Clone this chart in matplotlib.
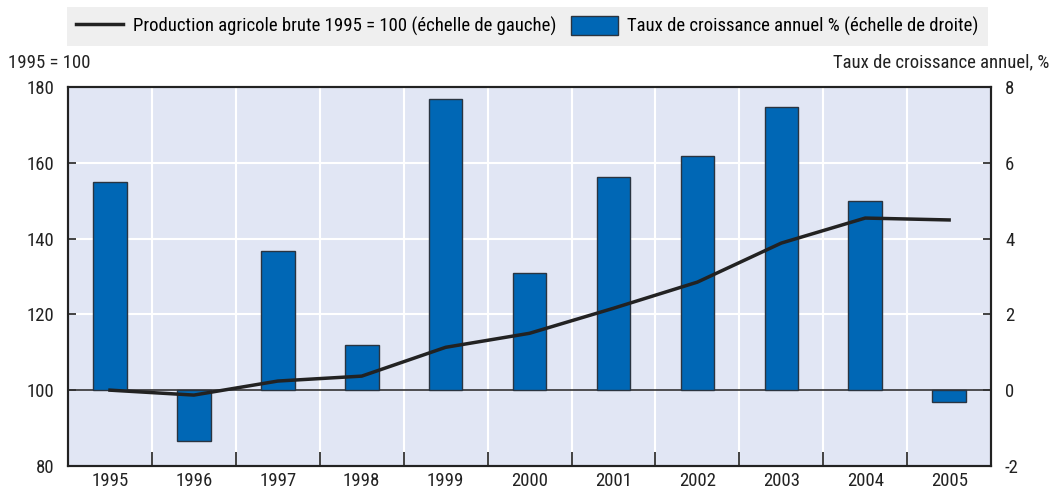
import numpy as np
import matplotlib
matplotlib.use('Agg')
import matplotlib.pyplot as plt
from matplotlib.ticker import FixedLocator

plt.rcParams['font.family'] = ['Roboto Condensed', 'Liberation Sans', 'DejaVu Sans']
plt.rcParams['axes.unicode_minus'] = False

#  data
years = ['1995', '1996', '1997', '1998', '1999', '2000', '2001', '2002', '2003', '2004', '2005']
production = [100, 98.7, 102.4, 103.7, 111.3, 115.0, 121.6, 128.5, 138.8, 145.4, 144.9]
growth = [5.5, -1.35, 3.67, 1.19, 7.68, 3.09, 5.62, 6.17, 7.47, 4.99, -0.32]

line_label = 'Production agricole brute 1995 = 100 (échelle de gauche)'
bar_label = 'Taux de croissance annuel % (échelle de droite)'

bg = '#e1e6f4'
blue = '#0067b5'
dark = '#222222'
fs = 13.5

fig = plt.figure(figsize=(10.53, 4.91), dpi=100)
ax = fig.add_axes([0.0646, 0.051, 0.8766, 0.772])
ax2 = ax.twinx()

x = np.arange(len(years))

ax.set_facecolor(bg)
ax.set_zorder(0)
ax2.set_zorder(1)
ax2.patch.set_visible(False)

#  bars on right scale
bars = ax2.bar(x, growth, width=0.4, color=blue, edgecolor='#2a3440', linewidth=1.0,
               label=bar_label, zorder=3)
ax2.axhline(0, color='#333333', linewidth=1.2, zorder=2)
ax2.set_ylim(-2, 8)
ax2.set_yticks([-2, 0, 2, 4, 6, 8])

#  line on left scale, drawn in right-axis coordinates so it sits above the bars
scale = lambda v: (np.array(v) - 100) / 10.0
ln, = ax2.plot(x, scale(production), color=dark, linewidth=2.5, label=line_label, zorder=4)

ax.set_ylim(80, 180)
ax.set_yticks([80, 100, 120, 140, 160, 180])
ax.set_xlim(-0.5, len(years) - 0.5)
ax.set_xticks(x)
ax.set_xticklabels(years)
ax.xaxis.set_minor_locator(FixedLocator(np.arange(0.5, len(years) - 1, 1)))

#  white grid
for yv in [120, 140, 160]:
    ax.axhline(yv, color='white', linewidth=1.5, zorder=1)
for xv in np.arange(0.5, len(years) - 1, 1):
    ax.axvline(xv, color='white', linewidth=1.5, zorder=1)

for a in (ax, ax2):
    for s in a.spines.values():
        s.set_color(dark)
        s.set_linewidth(1.5)
    a.tick_params(axis='both', which='major', labelsize=fs, colors=dark, direction='in',
                  length=6, width=1.2, pad=6)
ax.tick_params(axis='x', which='major', length=0, pad=4)
ax.tick_params(axis='x', which='minor', direction='in', length=10, width=1.2, colors=dark)
ax.tick_params(axis='y', pad=10)
ax2.tick_params(axis='y', pad=10)

fig.text(0.008, 0.872, '1995 = 100', fontsize=fs, ha='left', va='center', color=dark)
fig.text(0.997, 0.872, 'Taux de croissance annuel, %', fontsize=fs, ha='right', va='center', color=dark)

leg = fig.legend([ln, bars], [line_label, bar_label], loc='upper center',
                 bbox_to_anchor=(0.501, 1.0), borderaxespad=0.35, ncol=2, fontsize=fs,
                 frameon=True, fancybox=False, facecolor='#ebebeb', edgecolor='#ebebeb',
                 handlelength=2.5, handleheight=1.2, handletextpad=0.5, columnspacing=0.8,
                 borderpad=0.5)
leg.get_frame().set_linewidth(0)

fig.savefig('out.png', dpi=100)
